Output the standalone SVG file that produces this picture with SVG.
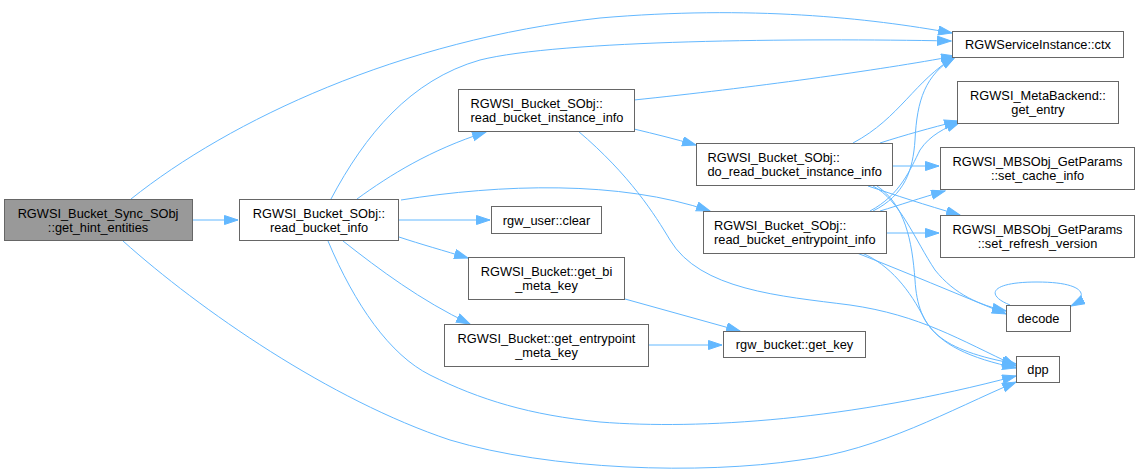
<svg xmlns="http://www.w3.org/2000/svg" width="1140" height="474" viewBox="0 0 1140 474">
<style>
.n rect{fill:#fff;stroke:#666;stroke-width:1}
.root rect{fill:#999}
text{font-family:"Liberation Sans",Arial,sans-serif;font-size:12.8px;fill:#000}
.c{text-anchor:middle}
#edges path{fill:none;stroke:#63b8ff;stroke-width:1;marker-end:url(#ah)}
</style>
<defs>
<marker id="ah" markerUnits="userSpaceOnUse" markerWidth="15" markerHeight="11" refX="14" refY="5" orient="auto">
<path d="M0.5,0.5 L14,5 L0.5,9.5 z" fill="#63b8ff" stroke="#63b8ff" stroke-width="1"/>
</marker>
</defs>
<rect width="1140" height="474" fill="#fff"/>
<g id="edges">
<path d="M192,220 L238,220"/>
<path d="M131,199 C230,120 400,40 600,18 C750,5 870,18 952,33"/>
<path d="M123,241 C200,310 330,400 450,440 C550,470 700,475 800,460 C880,450 950,410 1016,382"/>
<path d="M331,199 C365,135 410,80 480,60 C560,40 800,38 951,41"/>
<path d="M357,199 C390,175 430,150 486,132"/>
<path d="M401,200 C500,184 620,180 710,211"/>
<path d="M399,220 L490,220"/>
<path d="M399,237 C420,244 445,251 468,258"/>
<path d="M343,241 C380,270 420,300 470,324"/>
<path d="M328,241 C355,305 390,355 430,375 C480,400 530,415 600,422 C700,430 850,420 1016,376"/>
<path d="M634,100 C750,88 880,70 955,56"/>
<path d="M634,129 C655,134 675,139 696,145"/>
<path d="M578,131 C630,175 655,215 670,240 C700,290 780,296 850,305 C920,315 960,340 1016,366"/>
<path d="M625,299 L740,331"/>
<path d="M648,345 L722,345"/>
<path d="M853,143 C900,118 915,80 955,57"/>
<path d="M880,143 C905,135 930,128 958,121"/>
<path d="M893,166 L939,166"/>
<path d="M868,186 C895,195 925,205 960,215"/>
<path d="M873,186 C900,200 915,240 935,270 C955,295 980,305 1006,311"/>
<path d="M877,186 C905,205 912,240 915,280 C918,330 940,350 1016,364"/>
<path d="M873,211 C905,195 913,170 915,140 C917,100 925,75 955,57"/>
<path d="M870,211 C900,195 910,170 920,150 C930,135 945,128 960,122"/>
<path d="M880,211 C900,205 920,198 945,191"/>
<path d="M886,233 L939,233"/>
<path d="M857,253 C900,270 960,295 1006,314"/>
<path d="M862,253 C890,265 910,290 925,320 C940,345 970,358 1016,368"/>
<path d="M1010,305 C985,295 990,282 1037,282 C1085,282 1090,296 1071,306"/>
</g>
<g id="n_hint" class="n root"><rect x="4.5" y="199.5" width="188" height="41"/><text class="c" x="98" y="218">RGWSI_Bucket_Sync_SObj</text><text class="c" x="98" y="232">::get_hint_entities</text></g>
<g id="n_rbi" class="n"><rect x="239.5" y="199.5" width="159" height="41"/><text class="c" x="319" y="218">RGWSI_Bucket_SObj::</text><text class="c" x="319" y="232">read_bucket_info</text></g>
<g id="n_rbii" class="n"><rect x="458.5" y="89.5" width="176" height="42"/><text x="470.5" y="108">RGWSI_Bucket_SObj::</text><text x="470.5" y="122">read_bucket_instance_info</text></g>
<g id="n_clear" class="n"><rect x="491.5" y="206.5" width="110" height="27"/><text class="c" x="546.5" y="224.5">rgw_user::clear</text></g>
<g id="n_getbi" class="n"><rect x="468.5" y="257.5" width="156" height="42"/><text class="c" x="546.5" y="276">RGWSI_Bucket::get_bi</text><text class="c" x="546.5" y="290">_meta_key</text></g>
<g id="n_getep" class="n"><rect x="444.5" y="324.5" width="204" height="42"/><text class="c" x="546.5" y="343">RGWSI_Bucket::get_entrypoint</text><text class="c" x="546.5" y="357">_meta_key</text></g>
<g id="n_doread" class="n"><rect x="696.5" y="143.5" width="196" height="42"/><text x="707.5" y="162">RGWSI_Bucket_SObj::</text><text x="707.5" y="176">do_read_bucket_instance_info</text></g>
<g id="n_rbei" class="n"><rect x="703.5" y="211.5" width="183" height="42"/><text x="714" y="230">RGWSI_Bucket_SObj::</text><text x="714" y="244">read_bucket_entrypoint_info</text></g>
<g id="n_getkey" class="n"><rect x="723.5" y="331.5" width="142" height="26"/><text class="c" x="794.5" y="349">rgw_bucket::get_key</text></g>
<g id="n_ctx" class="n"><rect x="952.5" y="31.5" width="171" height="26"/><text class="c" x="1038" y="49">RGWServiceInstance::ctx</text></g>
<g id="n_getentry" class="n"><rect x="957.5" y="81.5" width="161" height="42"/><text class="c" x="1038" y="100">RGWSI_MetaBackend::</text><text class="c" x="1038" y="114">get_entry</text></g>
<g id="n_cache" class="n"><rect x="940.5" y="147.5" width="194" height="42"/><text class="c" x="1037.5" y="166">RGWSI_MBSObj_GetParams</text><text class="c" x="1037.5" y="180">::set_cache_info</text></g>
<g id="n_refresh" class="n"><rect x="940.5" y="215.5" width="194" height="42"/><text class="c" x="1037.5" y="234">RGWSI_MBSObj_GetParams</text><text class="c" x="1037.5" y="248">::set_refresh_version</text></g>
<g id="n_decode" class="n"><rect x="1006.5" y="305.5" width="64" height="26"/><text class="c" x="1038.5" y="323">decode</text></g>
<g id="n_dpp" class="n"><rect x="1016.5" y="356.5" width="43" height="26"/><text class="c" x="1038" y="374">dpp</text></g>
</svg>
